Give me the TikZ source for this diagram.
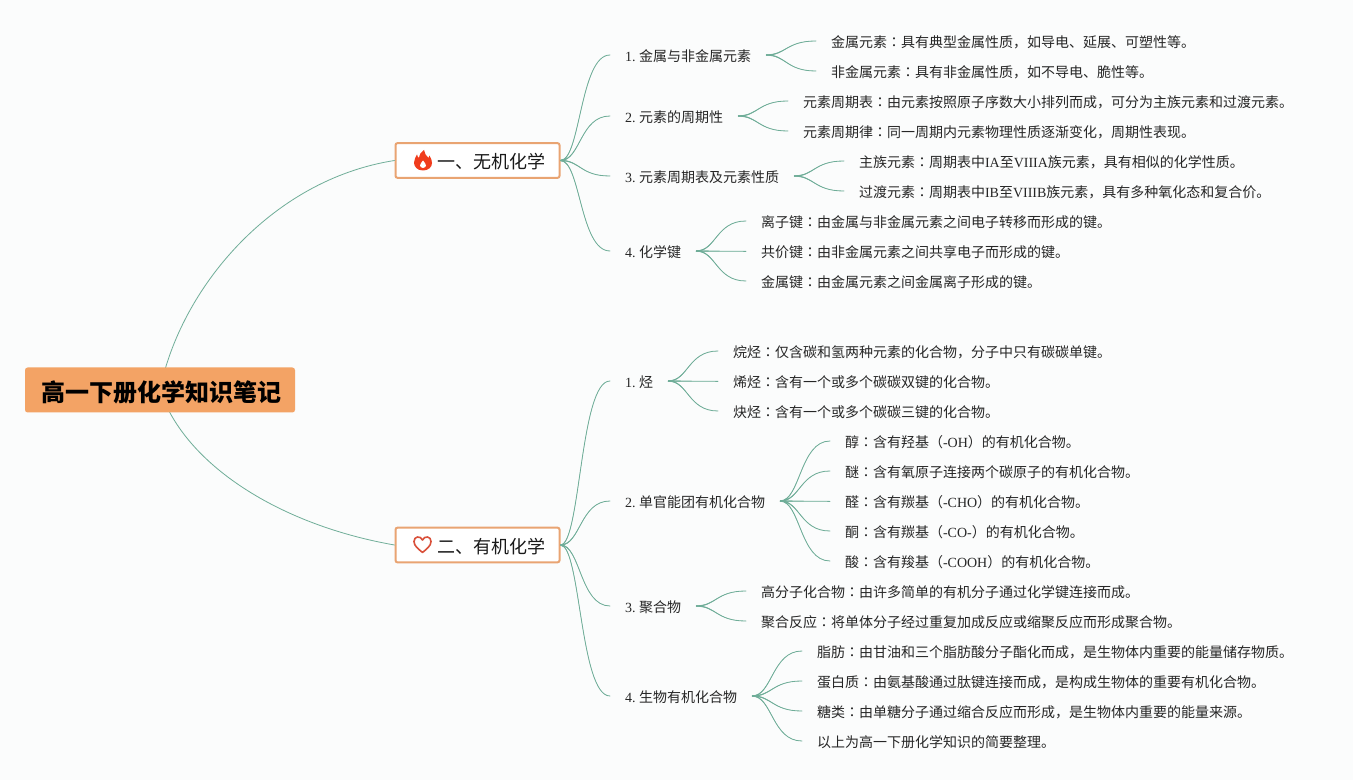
\documentclass[tikz,border=0pt]{standalone}
\usepackage{fontspec}
\setmainfont{Noto Sans CJK SC}
\newfontfamily\latfont{Liberation Serif}
\newfontfamily\jpfont{Noto Sans CJK JP}
\newcommand{\lat}[1]{{\latfont #1}}
\newcommand{\num}[1]{{\latfont #1. }\hspace*{-0.75pt}}
\newcommand{\cln}{{\jpfont ：}}
\definecolor{bgc}{HTML}{FBFCFC}
\definecolor{linec}{HTML}{6FAD98}
\definecolor{rootc}{HTML}{F3A365}
\definecolor{edgec}{HTML}{E9A472}
\definecolor{flamec}{HTML}{F03C1C}
\definecolor{heartc}{HTML}{D9503A}
\tikzset{
 x=0.75pt,y=-0.75pt,
 leaf/.style={anchor=west,inner xsep=11.25pt,inner ysep=0pt,outer sep=0pt,text height=10.2pt,text depth=0.3pt,font=\fontsize{10.5pt}{12pt}\selectfont,text=black!85},
 branch/.style={draw=edgec,line width=1.5pt,fill=white,rounded corners=1.5pt,minimum width=123pt,minimum height=26pt,inner sep=0pt,outer sep=0.75pt},
 branchtext/.style={anchor=west,inner sep=0pt,font=\fontsize{13.5pt}{15pt}\selectfont,text=black!90},
 rootbox/.style={fill=rootc,rounded corners=2pt,minimum width=202.5pt,minimum height=33.75pt,inner sep=0pt},
 roottext/.style={inner sep=0pt,font=\fontsize{18pt}{20pt}\selectfont\bfseries,text=black},
 conn/.style={draw=linec,line width=0.6pt,line cap=round},
 taper/.style={fill=linec,draw=none},
}
% a connector: thicker at the parent, thin at the child
\newcommand{\link}[2]{%
 \fill[taper] ([yshift=0.45pt]#1.east) .. controls +(20,0) and +(-30,0) .. (#2.west) .. controls +(-30,0) and +(20,0) .. ([yshift=-0.45pt]#1.east) -- cycle;
 \draw[conn] (#1.east) .. controls +(20,0) and +(-30,0) .. (#2.west);}
\begin{document}
\begin{tikzpicture}
\useasboundingbox (0,0) rectangle (1353,780);
\fill[bgc] (0,0) rectangle (1353,780);
% connectors from the root lie under the boxes
\coordinate (rc) at (160,390);
\node[branch] (b1) at (477.5,160.5) {};
\node[branch] (b2) at (477.5,545) {};
\draw[conn] (rc) .. controls (180,290) and (270,180) .. (b1.west);
\draw[conn] (rc) .. controls (185,465) and (280,525) .. (b2.west);
\node[rootbox] (root) at (160,390) {};
\node[roottext] (rt) at (161,392) {高一下册化学知识笔记};
\node[branchtext] (t1) at (437.5,161.5) {一、无机化学};
\node[branchtext] (t2) at (437.5,546.5) {二、有机化学};
% flame
\fill[flamec] (423,170.5) .. controls (417,170.5) and (414,166.5) .. (414,162.5) .. controls (414,159) and (416,157) .. (417,154.5) .. controls (417.5,156.5) and (418,157.5) .. (419,158) .. controls (419.5,154.5) and (421,151.5) .. (424,150) .. controls (424,153.5) and (426.5,155.5) .. (428.5,158) .. controls (429,157) and (429.3,156.5) .. (429.5,155.5) .. controls (431,158) and (432,160.5) .. (432,163) .. controls (432,167) and (428.5,170.5) .. (423,170.5) -- cycle;
\fill[white] (423,168) .. controls (421,168) and (420,166.5) .. (420,165.3) .. controls (420,163.5) and (422,162.5) .. (423,160.5) .. controls (424,162.5) and (426,163.5) .. (426,165.3) .. controls (426,166.5) and (425,168) .. (423,168) -- cycle;
% heart
\draw[draw=heartc,line width=1.2pt,line join=round] (422.5,552.5) .. controls (418.5,549) and (414,546) .. (414,541.5) .. controls (414,536) and (420.5,535.5) .. (422.5,540) .. controls (424.5,535.5) and (431,536) .. (431,541.5) .. controls (431,546) and (426.5,549) .. (422.5,552.5) -- cycle;
% first branch
\node[leaf] (a1) at (610,55) {\num{1}金属与非金属元素};
\node[leaf] (a2) at (610,116) {\num{2}元素的周期性};
\node[leaf] (a3) at (610,176) {\num{3}元素周期表及元素性质};
\node[leaf] (a4) at (610,251) {\num{4}化学键};
\node[leaf] (a11) at (816,41) {金属元素\cln 具有典型金属性质，如导电、延展、可塑性等。};
\node[leaf] (a12) at (816,71) {非金属元素\cln 具有非金属性质，如不导电、脆性等。};
\node[leaf] (a21) at (788,101) {元素周期表\cln 由元素按照原子序数大小排列而成，可分为主族元素和过渡元素。};
\node[leaf] (a22) at (788,131) {元素周期律\cln 同一周期内元素物理性质逐渐变化，周期性表现。};
\node[leaf] (a31) at (844,161) {主族元素\cln 周期表中\lat{IA}至\lat{VIIIA}族元素，具有相似的化学性质。};
\node[leaf] (a32) at (844,191) {过渡元素\cln 周期表中\lat{IB}至\lat{VIIIB}族元素，具有多种氧化态和复合价。};
\node[leaf] (a41) at (746,221) {离子键\cln 由金属与非金属元素之间电子转移而形成的键。};
\node[leaf] (a42) at (746,251) {共价键\cln 由非金属元素之间共享电子而形成的键。};
\node[leaf] (a43) at (746,281) {金属键\cln 由金属元素之间金属离子形成的键。};
% second branch
\node[leaf] (c1) at (610,381) {\num{1}烃};
\node[leaf] (c2) at (610,501) {\num{2}单官能团有机化合物};
\node[leaf] (c3) at (610,606) {\num{3}聚合物};
\node[leaf] (c4) at (610,696) {\num{4}生物有机化合物};
\node[leaf] (c11) at (718,351) {烷烃\cln 仅含碳和氢两种元素的化合物，分子中只有碳碳单键。};
\node[leaf] (c12) at (718,381) {烯烃\cln 含有一个或多个碳碳双键的化合物。};
\node[leaf] (c13) at (718,411) {炔烃\cln 含有一个或多个碳碳三键的化合物。};
\node[leaf] (c21) at (830,441) {醇\cln 含有羟基（\lat{-OH}）的有机化合物。};
\node[leaf] (c22) at (830,471) {醚\cln 含有氧原子连接两个碳原子的有机化合物。};
\node[leaf] (c23) at (830,501) {醛\cln 含有羰基（\lat{-CHO}）的有机化合物。};
\node[leaf] (c24) at (830,531) {酮\cln 含有羰基（\lat{-CO-}）的有机化合物。};
\node[leaf] (c25) at (830,561) {酸\cln 含有羧基（\lat{-COOH}）的有机化合物。};
\node[leaf] (c31) at (746,591) {高分子化合物\cln 由许多简单的有机分子通过化学键连接而成。};
\node[leaf] (c32) at (746,621) {聚合反应\cln 将单体分子经过重复加成反应或缩聚反应而形成聚合物。};
\node[leaf] (c41) at (802,651) {脂肪\cln 由甘油和三个脂肪酸分子酯化而成，是生物体内重要的能量储存物质。};
\node[leaf] (c42) at (802,681) {蛋白质\cln 由氨基酸通过肽键连接而成，是构成生物体的重要有机化合物。};
\node[leaf] (c43) at (802,711) {糖类\cln 由单糖分子通过缩合反应而形成，是生物体内重要的能量来源。};
\node[leaf] (c44) at (802,741) {以上为高一下册化学知识的简要整理。};
% connectors
\foreach \k in {a1,a2,a3,a4} {\link{b1}{\k}}
\foreach \k in {c1,c2,c3,c4} {\link{b2}{\k}}
\foreach \k in {a11,a12} {\link{a1}{\k}}
\foreach \k in {a21,a22} {\link{a2}{\k}}
\foreach \k in {a31,a32} {\link{a3}{\k}}
\foreach \k in {a41,a42,a43} {\link{a4}{\k}}
\foreach \k in {c11,c12,c13} {\link{c1}{\k}}
\foreach \k in {c21,c22,c23,c24,c25} {\link{c2}{\k}}
\foreach \k in {c31,c32} {\link{c3}{\k}}
\foreach \k in {c41,c42,c43,c44} {\link{c4}{\k}}
\end{tikzpicture}
\end{document}
